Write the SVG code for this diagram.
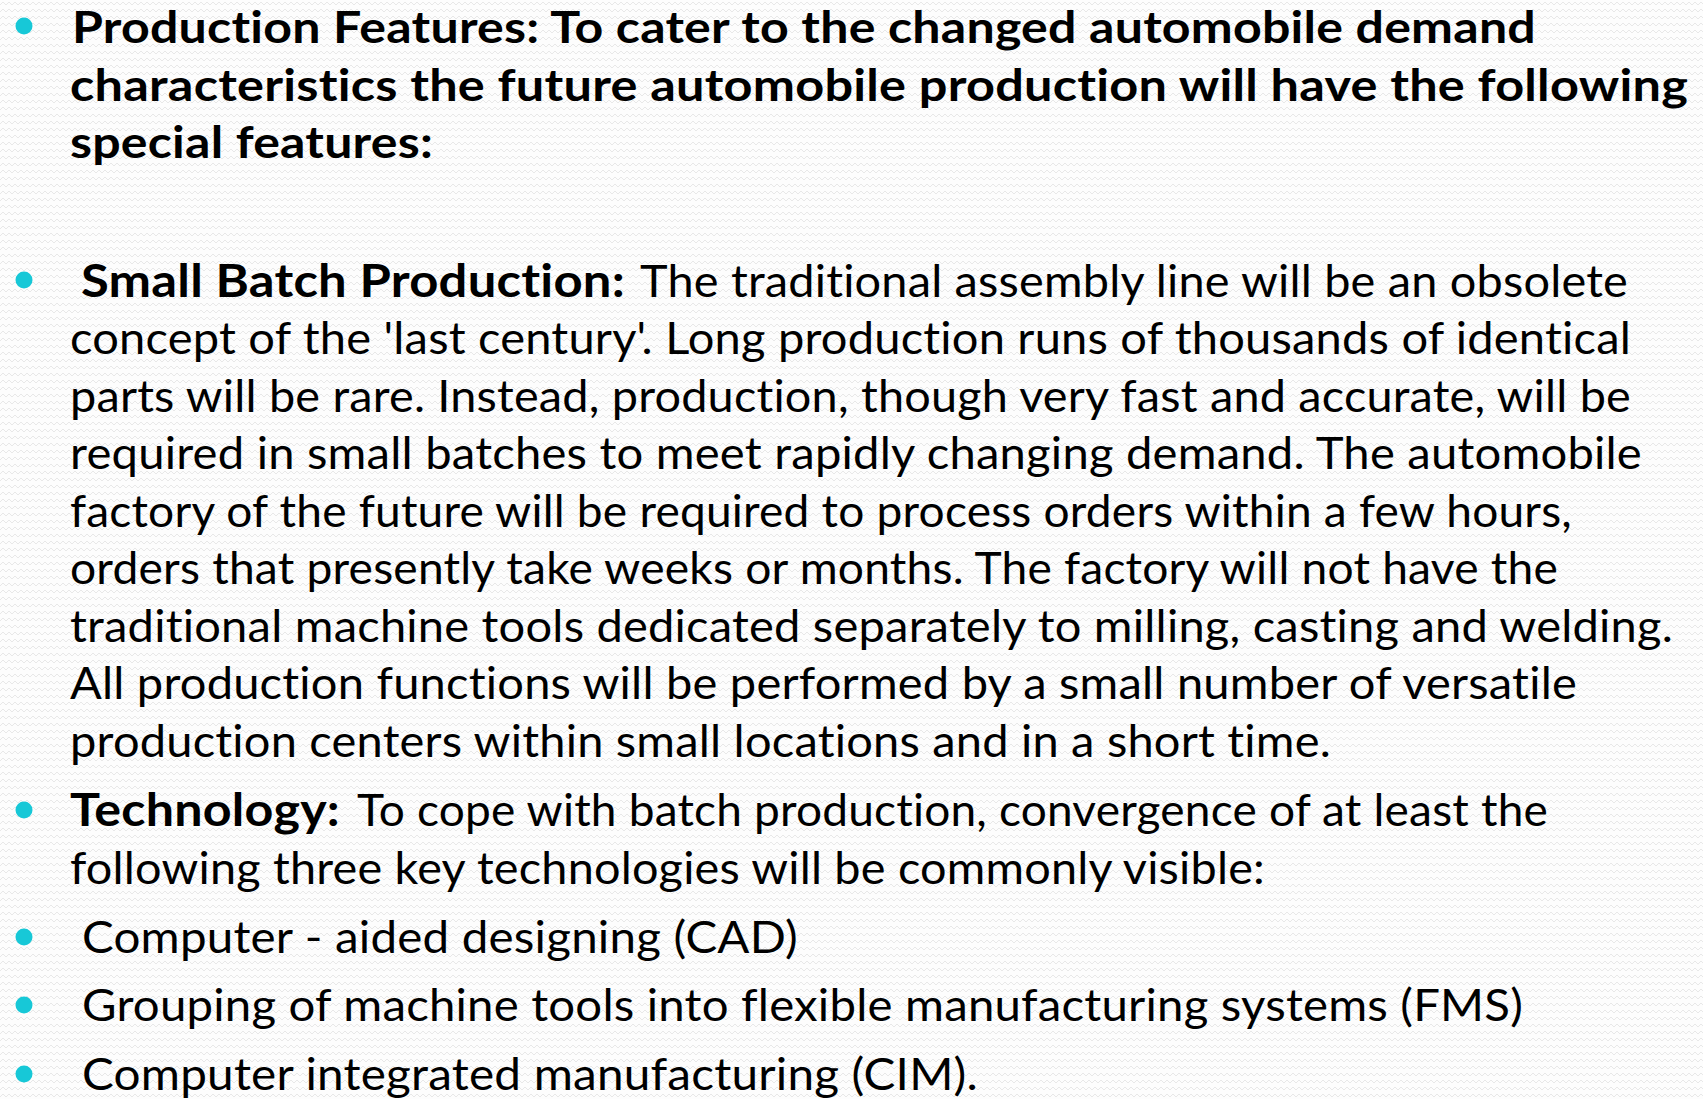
<svg xmlns="http://www.w3.org/2000/svg" width="1703" height="1099" viewBox="0 0 1703 1099">
  <defs>
    <!-- faint zigzag paper texture -->
    <pattern id="zigzag" width="6" height="7" patternUnits="userSpaceOnUse">
      <path d="M0 5 L3 2 L6 5" fill="none" stroke="#e8e8e8" stroke-width="1"/>
    </pattern>
  </defs>
  <style>
    .t { font-family: "Lato", "Liberation Sans", sans-serif; fill: #000; font-variant-ligatures: none; font-feature-settings: "liga" 0, "clig" 0, "dlig" 0, "calt" 0; letter-spacing: 0.2px; }
    .h { font-size: 44px; font-weight: bold; }
    .b { font-size: 45px; font-weight: normal; }
    .bb { font-size: 45px; font-weight: bold; }
    .dot { fill: #17c8d7; }
  </style>

  <rect width="1703" height="1099" fill="#fdfdfd"/>
  <rect width="1703" height="1099" fill="url(#zigzag)"/>

  <!-- Heading bullet -->
  <g id="production-features">
    <circle class="dot" cx="24" cy="26" r="8.5"/>
    <text class="t h" x="72" y="43" textLength="1464" lengthAdjust="spacingAndGlyphs">Production Features: To cater to the changed automobile demand</text>
    <text class="t h" x="70" y="101" textLength="1618" lengthAdjust="spacingAndGlyphs">characteristics the future automobile production will have the following</text>
    <text class="t h" x="70" y="157.5" textLength="363" lengthAdjust="spacingAndGlyphs">special features:</text>
  </g>

  <!-- Small batch production -->
  <g id="small-batch">
    <circle class="dot" cx="24" cy="280" r="8.5"/>
    <text class="t bb" x="81" y="296.5" textLength="544" lengthAdjust="spacingAndGlyphs">Small Batch Production:</text>
    <text class="t b" x="640" y="296.5" textLength="988" lengthAdjust="spacingAndGlyphs">The traditional assembly line will be an obsolete</text>
    <text class="t b" x="70" y="354" textLength="1561" lengthAdjust="spacingAndGlyphs">concept of the 'last century'. Long production runs of thousands of identical</text>
    <text class="t b" x="70" y="411.5" textLength="1561" lengthAdjust="spacingAndGlyphs">parts will be rare. Instead, production, though very fast and accurate, will be</text>
    <text class="t b" x="70" y="469" textLength="1572" lengthAdjust="spacingAndGlyphs">required in small batches to meet rapidly changing demand. The automobile</text>
    <text class="t b" x="70" y="526.5" textLength="1502" lengthAdjust="spacingAndGlyphs">factory of the future will be required to process orders within a few hours,</text>
    <text class="t b" x="70" y="584" textLength="1488" lengthAdjust="spacingAndGlyphs">orders that presently take weeks or months. The factory will not have the</text>
    <text class="t b" x="70" y="641.5" textLength="1603" lengthAdjust="spacingAndGlyphs">traditional machine tools dedicated separately to milling, casting and welding.</text>
    <text class="t b" x="70" y="699" textLength="1507" lengthAdjust="spacingAndGlyphs">All production functions will be performed by a small number of versatile</text>
    <text class="t b" x="70" y="756.5" textLength="1261" lengthAdjust="spacingAndGlyphs">production centers within small locations and in a short time.</text>
  </g>

  <!-- Technology -->
  <g id="technology">
    <circle class="dot" cx="24" cy="810" r="8.5"/>
    <text class="t bb" x="70" y="826" textLength="270" lengthAdjust="spacingAndGlyphs">Technology:</text>
    <text class="t b" x="357" y="826" textLength="1191" lengthAdjust="spacingAndGlyphs">To cope with batch production, convergence of at least the</text>
    <text class="t b" x="70" y="884" textLength="1195" lengthAdjust="spacingAndGlyphs">following three key technologies will be commonly visible:</text>
  </g>

  <g id="cad">
    <circle class="dot" cx="24" cy="937" r="8.5"/>
    <text class="t b" x="82" y="953" textLength="716" lengthAdjust="spacingAndGlyphs">Computer - aided designing (CAD)</text>
  </g>

  <g id="fms">
    <circle class="dot" cx="24" cy="1005" r="8.5"/>
    <text class="t b" x="82" y="1021" textLength="1441" lengthAdjust="spacingAndGlyphs">Grouping of machine tools into flexible manufacturing systems (FMS)</text>
  </g>

  <g id="cim">
    <circle class="dot" cx="24" cy="1074" r="8.5"/>
    <text class="t b" x="82" y="1090" textLength="896" lengthAdjust="spacingAndGlyphs">Computer integrated manufacturing (CIM).</text>
  </g>
</svg>
